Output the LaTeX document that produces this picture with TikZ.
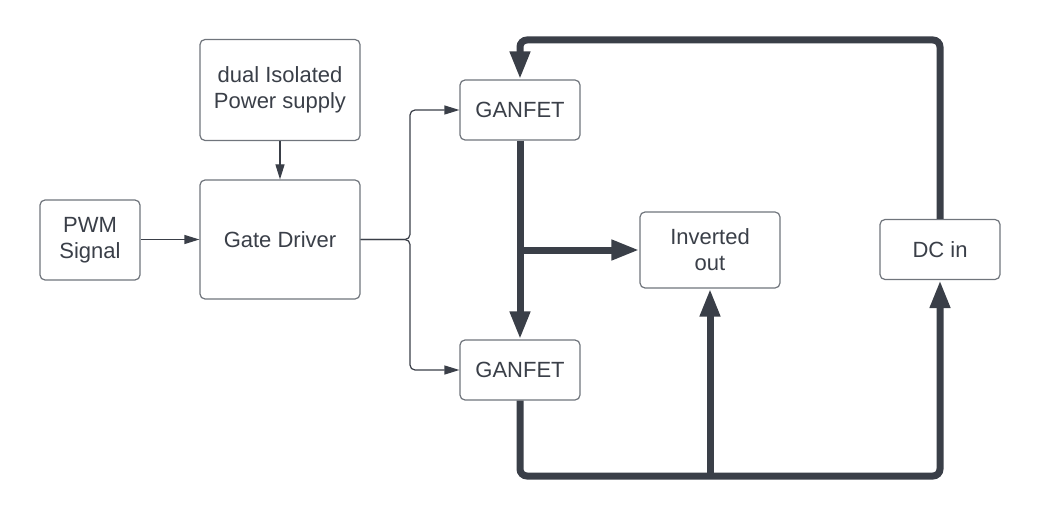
\documentclass[tikz,border=0pt]{standalone}
\usepackage{fontspec}
\setmainfont{Liberation Sans}
\usetikzlibrary{arrows.meta}
\definecolor{ink}{HTML}{3A3F48}
\definecolor{rim}{HTML}{70757C}
\tikzstyle{blk}=[rectangle, rounded corners=5pt, draw=rim, line width=1.2pt, fill=white, text=ink, align=center, inner sep=0pt, anchor=center, font=\fontsize{22}{26}\selectfont]
\tikzstyle{sig}=[draw=ink, line width=1.2pt, rounded corners=5pt, -{Triangle[length=15pt,width=9pt]}]
\tikzstyle{pwr}=[draw=ink, line width=7pt, rounded corners=7pt, -{Triangle[length=28pt,width=19pt]}]

\begin{document}
\begin{tikzpicture}[x=1pt,y=-1pt]
	\useasboundingbox (0,0) rectangle (1040,521);

	\node[blk, minimum width=100pt, minimum height=80pt](pwm) at (90,240){PWM\\Signal};
	\node[blk, minimum width=160pt, minimum height=101pt](psu) at (280,90){dual Isolated\\Power supply};
	\node[blk, minimum width=160pt, minimum height=119pt](gd) at (280,239.5){Gate Driver};
	\node[blk, minimum width=120pt, minimum height=60pt](gan1) at (520,110){GANFET};
	\node[blk, minimum width=120pt, minimum height=60pt](gan2) at (520,370){GANFET};
	\node[blk, minimum width=140pt, minimum height=76pt](inv) at (710,250){Inverted\\out};
	\node[blk, minimum width=120pt, minimum height=60pt](dcin) at (940,249.5){DC in};

	% gate signals
	\coordinate (fork) at (410,239.5);
	\draw[sig] (psu.south) -- (gd.north);
	\draw[sig] (pwm.east |- gd.west) -- (gd.west);
	\draw[sig] (gd.east) -- (fork) |- (gan1.west);
	\draw[sig] (gd.east) -- (fork) |- (gan2.west);

	% power path
	\coordinate (topL) at (520,40);
	\coordinate (topR) at (940,40);
	\coordinate (lowL) at (520,476);
	\coordinate (lowR) at (940,476);
	\draw[pwr] (dcin.north) -- (topR) -- (topL) -- (gan1.north);
	\draw[pwr] (gan1.south) -- (gan2.north);
	\draw[pwr] (gan1.south |- inv.west) -- (inv.west);
	\draw[pwr] (gan2.south) -- (lowL) -- (lowR) -- (dcin.south);
	\draw[pwr] (inv.south |- lowL) -- (inv.south);

\end{tikzpicture}
\end{document}
